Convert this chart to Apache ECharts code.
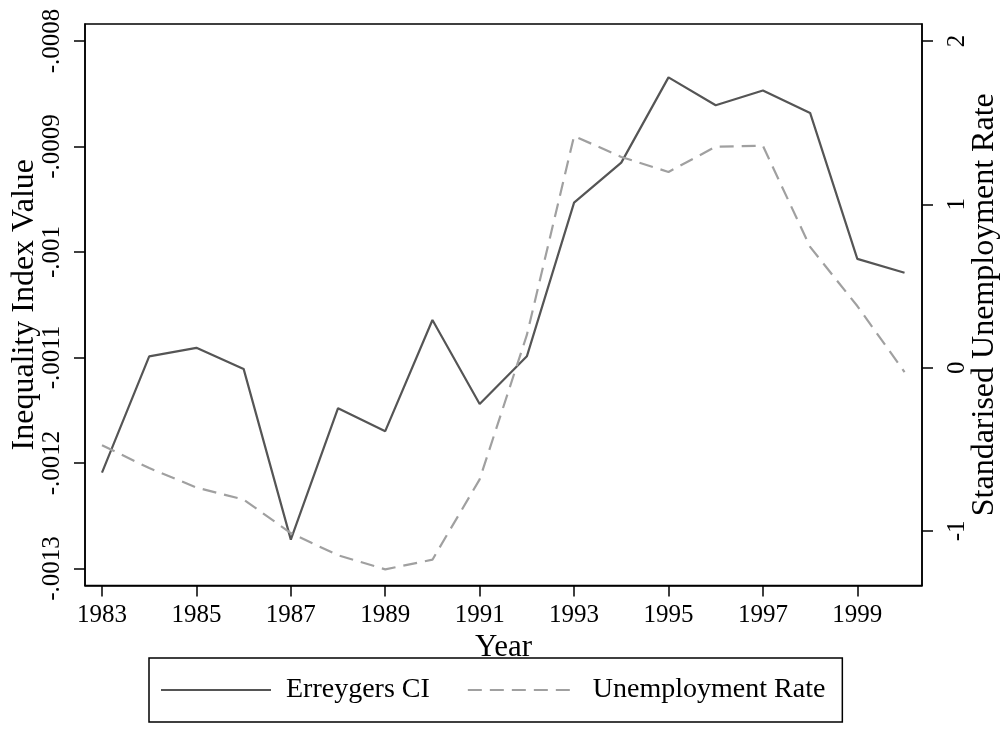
<!DOCTYPE html>
<html>
<head>
<meta charset="utf-8">
<script src="https://cdn.jsdelivr.net/npm/echarts@6/dist/echarts.min.js"></script>
<style>
html,body{margin:0;padding:0;background:#fff;}
#chart{width:1004px;height:733px;}
</style>
</head>
<body>
<div id="chart"></div>
<script>
// ---- data ----
const years = [1983,1984,1985,1986,1987,1988,1989,1990,1991,1992,1993,1994,1995,1996,1997,1998,1999,2000];
const erreygersCI = [-0.0012091,-0.0010989,-0.0010908,-0.0011108,-0.0012726,-0.0011480,-0.0011698,-0.0010645,-0.0011441,-0.0010989,-0.0009532,-0.0009153,-0.0008345,-0.0008609,-0.0008469,-0.0008682,-0.0010065,-0.0010197];
const unemploymentRate = [-0.475,-0.615,-0.734,-0.808,-1.013,-1.149,-1.235,-1.176,-0.684,0.200,1.418,1.290,1.198,1.353,1.358,0.739,0.377,-0.027];
const xTicks = [1983,1985,1987,1989,1991,1993,1995,1997,1999];
const leftTicks = [-0.0013,-0.0012,-0.0011,-0.001,-0.0009,-0.0008];
const leftTickLabels = ['-.0013','-.0012','-.0011','-.001','-.0009','-.0008'];
const rightTicks = [-1,0,1,2];
const rightTickLabels = ['-1','0','1','2'];

const FONT = '"Liberation Serif", "Times New Roman", serif';

function labelFor(ticks, labels){
  return function(v){
    let best = 0, bd = Infinity;
    ticks.forEach((t,i)=>{ const d = Math.abs(t - v); if (d < bd){bd=d;best=i;} });
    return labels[best];
  };
}

const chart = echarts.init(document.getElementById('chart'), null, {renderer:'canvas'});
chart.setOption({
  backgroundColor:'#fff',
  animation:false,
  grid:{left:85, right:82, top:24, bottom:147.5, show:true, borderColor:'#000', borderWidth:1.5, backgroundColor:'#fff', containLabel:false, outerBoundsMode:'none'},
  xAxis:{
    type:'value', min:1982.64, max:2000.37,
    name:'Year', nameLocation:'middle', nameGap:47, nameMoveOverlap:false,
    nameTextStyle:{fontFamily:FONT, fontSize:31, color:'#000'},
    axisLine:{show:true, onZero:false, lineStyle:{color:'#000', width:1.5}},
    axisTick:{show:true, length:11, lineStyle:{color:'#000', width:1.5}, customValues:xTicks},
    axisLabel:{fontFamily:FONT, fontSize:25, color:'#000', margin:17, customValues:xTicks, formatter:v=>String(Math.round(v))},
    splitLine:{show:false}
  },
  yAxis:[{
    type:'value', position:'left', min:-0.0013161, max:-0.0007839,
    name:'Inequality Index Value', nameLocation:'middle', nameGap:44, nameRotate:90, nameMoveOverlap:false,
    nameTextStyle:{fontFamily:FONT, fontSize:32, color:'#000'},
    axisLine:{show:true, onZero:false, lineStyle:{color:'#000', width:1.5}},
    axisTick:{show:true, length:11, lineStyle:{color:'#000', width:1.5}, customValues:leftTicks},
    axisLabel:{fontFamily:FONT, fontSize:25, color:'#000', rotate:90, margin:20, customValues:leftTicks, formatter:labelFor(leftTicks,leftTickLabels)},
    splitLine:{show:false}
  },{
    type:'value', position:'right', min:-1.334, max:2.104,
    name:'Standarised Unemployment Rate', nameLocation:'middle', nameGap:47, nameRotate:90, nameMoveOverlap:false,
    nameTextStyle:{fontFamily:FONT, fontSize:32, color:'#000'},
    axisLine:{show:true, onZero:false, lineStyle:{color:'#000', width:1.5}},
    axisTick:{show:true, length:11, lineStyle:{color:'#000', width:1.5}, customValues:rightTicks},
    axisLabel:{fontFamily:FONT, fontSize:25, color:'#000', rotate:90, margin:23, customValues:rightTicks, formatter:labelFor(rightTicks,rightTickLabels)},
    splitLine:{show:false}
  }],
  legend:{
    left:149, top:658, orient:'horizontal',
    padding:[18,17,18,11],
    borderColor:'#000', borderWidth:1.5,
    itemWidth:110, itemHeight:14, itemGap:37,
    itemStyle:{opacity:0},
    textStyle:{fontFamily:FONT, fontSize:28, color:'#000', padding:[0,0,0,10]},
    data:['Erreygers CI','Unemployment Rate']
  },
  series:[{
    name:'Erreygers CI', type:'line', yAxisIndex:0, symbol:'none',
    data: years.map((y,i)=>[y, erreygersCI[i]]),
    lineStyle:{color:'#555555', width:2.2}, itemStyle:{color:'#555555'}
  },{
    name:'Unemployment Rate', type:'line', yAxisIndex:1, symbol:'none',
    data: years.map((y,i)=>[y, unemploymentRate[i]]),
    lineStyle:{color:'#a0a0a0', width:2.2, type:[14,8]}, itemStyle:{color:'#a0a0a0'}
  }]
});
</script>
</body>
</html>
